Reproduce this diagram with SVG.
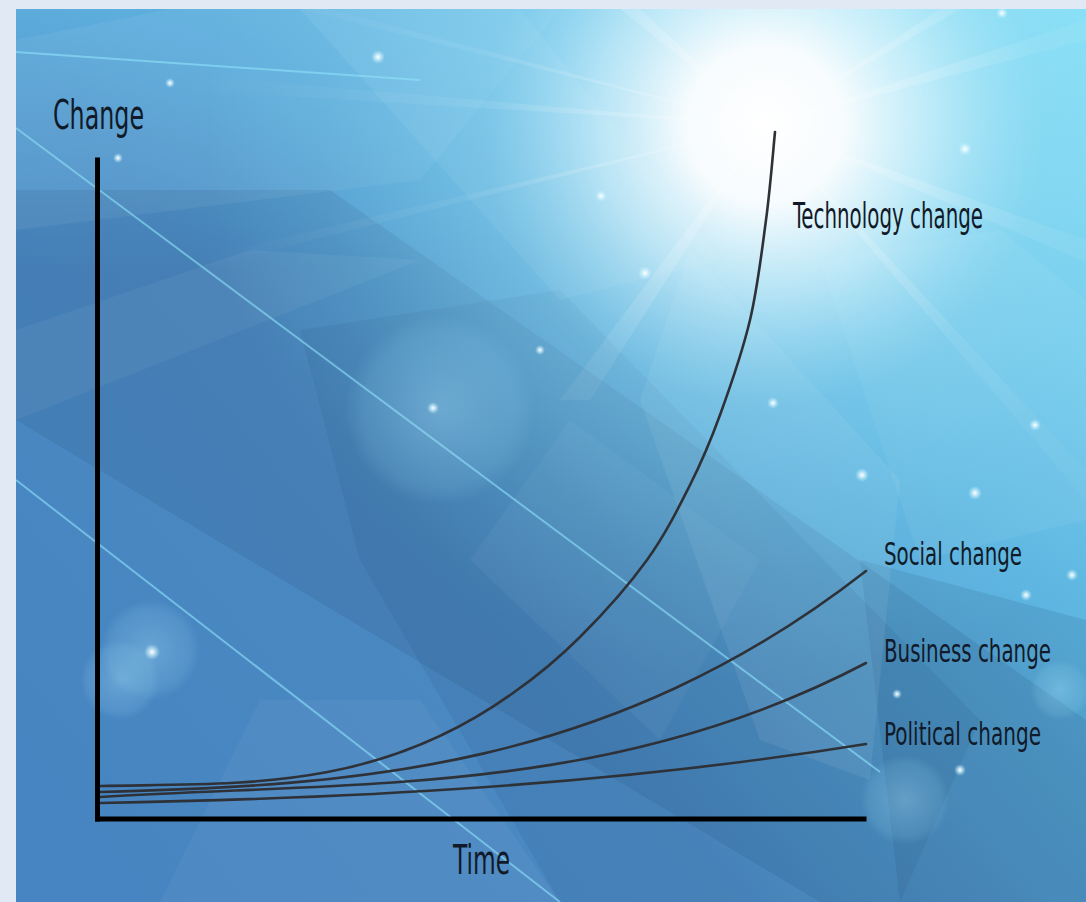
<svg xmlns="http://www.w3.org/2000/svg" width="1086" height="902" viewBox="0 0 1086 902">
<defs>
  <linearGradient id="base" x1="0" y1="902" x2="1086" y2="0" gradientUnits="userSpaceOnUse">
    <stop offset="0" stop-color="#4684c2"/>
    <stop offset="0.4" stop-color="#4b89c1"/>
    <stop offset="0.7" stop-color="#5cb4e0"/>
    <stop offset="1" stop-color="#84dff6"/>
  </linearGradient>
  <linearGradient id="topl" x1="0" y1="0" x2="0" y2="1">
    <stop offset="0" stop-color="#63b9e6" stop-opacity="0.7"/>
    <stop offset="1" stop-color="#63b9e6" stop-opacity="0"/>
  </linearGradient>
  <radialGradient id="sun" cx="765" cy="125" r="560" gradientUnits="userSpaceOnUse">
    <stop offset="0" stop-color="#ffffff" stop-opacity="1"/>
    <stop offset="0.14" stop-color="#ffffff" stop-opacity="0.95"/>
    <stop offset="0.3" stop-color="#dcf8fe" stop-opacity="0.7"/>
    <stop offset="0.5" stop-color="#a2e6f8" stop-opacity="0.35"/>
    <stop offset="0.8" stop-color="#8fe2f7" stop-opacity="0.1"/>
    <stop offset="1" stop-color="#8fe2f7" stop-opacity="0"/>
  </radialGradient>
  <radialGradient id="ray" cx="765" cy="125" r="600" gradientUnits="userSpaceOnUse">
    <stop offset="0" stop-color="#ffffff" stop-opacity="0.8"/>
    <stop offset="0.5" stop-color="#ffffff" stop-opacity="0.2"/>
    <stop offset="1" stop-color="#ffffff" stop-opacity="0"/>
  </radialGradient>
  <radialGradient id="dot" cx="0.5" cy="0.5" r="0.5">
    <stop offset="0" stop-color="#ffffff" stop-opacity="1"/>
    <stop offset="0.35" stop-color="#e8fbff" stop-opacity="0.7"/>
    <stop offset="1" stop-color="#bff0ff" stop-opacity="0"/>
  </radialGradient>
  <radialGradient id="bokeh" cx="0.5" cy="0.5" r="0.5">
    <stop offset="0" stop-color="#b5ecff" stop-opacity="0.3"/>
    <stop offset="0.8" stop-color="#9adcf5" stop-opacity="0.14"/>
    <stop offset="1" stop-color="#9adcf5" stop-opacity="0"/>
  </radialGradient>
  <style>
    .lbl { font-family: 'DejaVu Sans Condensed', 'DejaVu Sans', 'Liberation Sans', sans-serif; fill: #111a28; font-stretch: condensed; }
    .axis { stroke: #000000; stroke-width: 5; fill: none; stroke-linecap: square; }
    .curve { stroke: #2e3238; stroke-width: 2.6; fill: none; stroke-linecap: round; }
    .beam { stroke: #8fe3fb; stroke-width: 2; opacity: 0.6; }
    .facet { fill: #ffffff; }
    .shade { fill: #21456e; }
  </style>
</defs>

<rect x="0" y="0" width="1086" height="902" fill="#e1eaf4"/>

<g id="background">
  <rect x="16" y="9" width="1070" height="893" fill="url(#base)"/>
  <rect x="16" y="9" width="600" height="260" fill="url(#topl)"/>
  <polygon class="shade" opacity="0.14" points="16,190 330,190 1086,720 1086,902 820,902 16,420"/>
  <polygon class="shade" opacity="0.10" points="300,330 560,290 980,720 900,902 560,902 360,560"/>
  <polygon class="shade" opacity="0.14" points="860,560 1086,620 1086,902 900,902"/>
  <polygon class="facet" opacity="0.06" points="16,40 170,9 560,9 420,180 16,230"/>
  <polygon class="facet" opacity="0.05" points="16,330 250,250 420,260 16,420"/>
  <polygon class="facet" opacity="0.07" points="640,400 690,250 900,480 870,780 760,740"/>
  <polygon class="facet" opacity="0.04" points="470,560 570,420 760,560 660,740"/>
  <polygon class="facet" opacity="0.04" points="160,902 260,700 420,700 560,902"/>
  <polygon class="facet" opacity="0.07" points="300,9 520,9 720,260 560,300"/>
  <polygon class="facet" opacity="0.06" points="820,260 1000,230 1086,300 1086,520 920,560"/>
  <rect x="16" y="9" width="1070" height="893" fill="url(#sun)"/>
  <g fill="url(#ray)" opacity="0.35">
    <polygon points="765,125 16,60 16,80"/>
    <polygon points="765,125 300,9 330,9"/>
    <polygon points="765,125 620,9 640,9"/>
    <polygon points="765,125 1086,20 1086,40"/>
    <polygon points="765,125 1086,240 1086,262"/>
    <polygon points="765,125 1086,470 1086,500"/>
    <polygon points="765,125 560,400 590,400"/>
    <polygon points="765,125 16,300 16,315"/>
    <polygon points="765,125 940,9 960,9"/>
  </g>
  <line class="beam" x1="16" y1="128" x2="880" y2="772"/>
  <line class="beam" x1="16" y1="480" x2="560" y2="902"/>
  <line class="beam" x1="16" y1="52" x2="420" y2="80" opacity="0.35" stroke-width="10"/>
  <circle cx="440" cy="410" r="95" fill="url(#bokeh)"/>
  <circle cx="150" cy="650" r="50" fill="url(#bokeh)"/>
  <circle cx="120" cy="680" r="40" fill="url(#bokeh)"/>
  <circle cx="905" cy="800" r="45" fill="url(#bokeh)"/>
  <circle cx="1060" cy="690" r="30" fill="url(#bokeh)"/>
  <g fill="url(#dot)">
    <circle cx="378" cy="57" r="7"/>
    <circle cx="433" cy="408" r="6"/>
    <circle cx="152" cy="652" r="8"/>
    <circle cx="118" cy="158" r="5"/>
    <circle cx="170" cy="83" r="5"/>
    <circle cx="645" cy="273" r="7"/>
    <circle cx="601" cy="196" r="6"/>
    <circle cx="862" cy="475" r="7"/>
    <circle cx="975" cy="493" r="7"/>
    <circle cx="1002" cy="13" r="6"/>
    <circle cx="965" cy="149" r="7"/>
    <circle cx="1026" cy="595" r="6"/>
    <circle cx="1035" cy="425" r="6"/>
    <circle cx="773" cy="403" r="6"/>
    <circle cx="897" cy="694" r="5"/>
    <circle cx="960" cy="770" r="6"/>
    <circle cx="1072" cy="575" r="6"/>
    <circle cx="540" cy="350" r="5"/>
  </g>
</g>

<g id="connectors">
  <path id="tech-curve" class="curve" d="M100,786 C238,783 375,792.4 513,693 C535.2,677.5 557.7,659.2 580,637 C602.3,614.8 628.7,585.3 647,560 C665.3,534.7 677.8,509.2 690,485 C702.2,460.8 710,442.5 720,415 C730,387.5 742.3,352.5 750,320 C757.7,287.5 761.8,251.3 766,220 C770.2,188.7 773.5,146.7 775,132"/>
  <path id="social-curve" class="curve" d="M100,792 C355.3,785.4 610.7,769.9 866,571"/>
  <path id="business-curve" class="curve" d="M100,797 C355.3,780.9 610.7,797 866,663"/>
  <path id="political-curve" class="curve" d="M100,803 C355.3,798.3 610.7,785.3 866,744"/>
</g>

<g id="axes">
  <line class="axis" x1="97.5" y1="160" x2="97.5" y2="819"/>
  <line class="axis" x1="97.5" y1="819" x2="864" y2="819"/>
</g>

<g id="label-change"><text class="lbl" x="53" y="129" font-size="40" textLength="91" lengthAdjust="spacingAndGlyphs">Change</text></g>
<g id="label-time"><text class="lbl" x="453" y="874" font-size="41" textLength="57" lengthAdjust="spacingAndGlyphs">Time</text></g>
<g id="label-technology"><text class="lbl" transform="translate(793,228) scale(1,1.25)" x="0" y="0" font-size="28" textLength="190" lengthAdjust="spacingAndGlyphs">Technology change</text></g>
<g id="label-social"><text class="lbl" transform="translate(884,565) scale(1,1.25)" x="0" y="0" font-size="26" textLength="138" lengthAdjust="spacingAndGlyphs">Social change</text></g>
<g id="label-business"><text class="lbl" transform="translate(884,662) scale(1,1.25)" x="0" y="0" font-size="26" textLength="167" lengthAdjust="spacingAndGlyphs">Business change</text></g>
<g id="label-political"><text class="lbl" transform="translate(884,745) scale(1,1.25)" x="0" y="0" font-size="26" textLength="157" lengthAdjust="spacingAndGlyphs">Political change</text></g>
</svg>
